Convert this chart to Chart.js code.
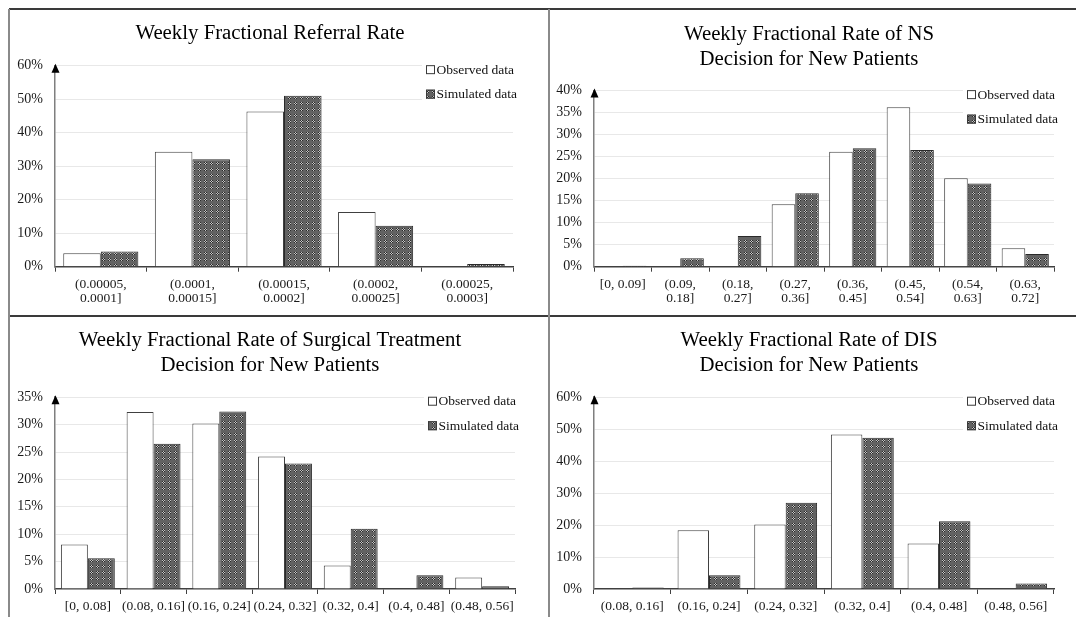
<!DOCTYPE html>
<html>
<head>
<meta charset="utf-8">
<script src="https://cdn.jsdelivr.net/npm/chart.js@4.4.0/dist/chart.umd.min.js"></script>
<style>
  body { margin: 0; background: #fff; }
  #page { position: relative; width: 1076px; height: 617px; overflow: hidden; }
  canvas { position: absolute; }
  .rule { position: absolute; }
</style>
</head>
<body>
<div id="page">
  <div class="rule" style="left:9px;top:8px;width:1067px;height:2px;background:#3a3a3a"></div>
  <div class="rule" style="left:9px;top:315px;width:1067px;height:2px;background:#3a3a3a"></div>
  <div class="rule" style="left:8px;top:9px;width:2px;height:608px;background:#8a8a8a"></div>
  <div class="rule" style="left:548px;top:9px;width:2px;height:608px;background:#8a8a8a"></div>
  <canvas id="c1" width="537" height="304" style="left:11px;top:11px"></canvas>
  <canvas id="c2" width="525" height="304" style="left:551px;top:11px"></canvas>
  <canvas id="c3" width="537" height="298" style="left:11px;top:318px"></canvas>
  <canvas id="c4" width="525" height="298" style="left:551px;top:318px"></canvas>
</div>
<script>
// values in percent
const referralLabels = [["(0.00005,", "0.0001]"], ["(0.0001,", "0.00015]"], ["(0.00015,", "0.0002]"], ["(0.0002,", "0.00025]"], ["(0.00025,", "0.0003]"]];
const referralObserved = [4, 34.3, 46.3, 16.3, 0];
const referralSimulated = [4.5, 32.1, 51, 12.2, 0.8];

const nsLabels = ["[0, 0.09]", ["(0.09,", "0.18]"], ["(0.18,", "0.27]"], ["(0.27,", "0.36]"], ["(0.36,", "0.45]"], ["(0.45,", "0.54]"], ["(0.54,", "0.63]"], ["(0.63,", "0.72]"]];
const nsObserved = [0, 0, 0, 14.2, 26.1, 36.2, 20.1, 4.2];
const nsSimulated = [0.2, 1.9, 7.0, 16.7, 26.9, 26.5, 18.9, 2.9];

const surgLabels = ["[0, 0.08]", "(0.08, 0.16]", "(0.16, 0.24]", "(0.24, 0.32]", "(0.32, 0.4]", "(0.4, 0.48]", "(0.48, 0.56]"];
const surgObserved = [8.1, 32.3, 30.2, 24.2, 4.3, 0, 2.1];
const surgSimulated = [5.6, 26.5, 32.4, 22.9, 11, 2.5, 0.5];

const disLabels = ["(0.08, 0.16]", "(0.16, 0.24]", "(0.24, 0.32]", "(0.32, 0.4]", "(0.4, 0.48]", "(0.48, 0.56]"];
const disObserved = [0, 18.4, 20.2, 48.3, 14.2, 0];
const disSimulated = [0.5, 4.3, 27, 47.3, 21.2, 1.7];

const SERIF = '"Liberation Serif", "Times New Roman", serif';

// hatched grey fill used by Excel for the simulated series
function makePattern() {
  const c = document.createElement("canvas");
  c.width = 6;
  c.height = 6;
  const g = c.getContext("2d");
  g.fillStyle = "#626262";
  g.fillRect(0, 0, 6, 6);
  for (let i = 0; i < 3; i++) {
    for (let j = 0; j < 3; j++) {
      g.fillStyle = (i + j) % 2 ? "#c4c4c4" : "#2a2a2a";
      g.fillRect(1 + i, 1 + j, 1, 1);
    }
  }
  return g.createPattern(c, "repeat");
}
const hatch = makePattern();

// y axis arrow + legend drawn inside the plot area
const decor = {
  id: "decor",
  afterLayout(chart, args, opts) {
    // Excel centres the title a bit left of the plot centre
    const t = chart.titleBlock;
    if (t && opts.titleX) {
      const w = t.right - t.left;
      t.left = opts.titleX - w / 2;
      t.right = opts.titleX + w / 2;
    }
  },
  afterDraw(chart) {
    const ctx = chart.ctx;
    const a = chart.chartArea;
    const ys = chart.scales.y;
    const ax = Math.round(ys.right) + 0.5;
    ctx.save();
    ctx.fillStyle = "#000";
    ctx.beginPath();
    ctx.moveTo(ax, a.top - 2);
    ctx.lineTo(ax - 4, a.top + 7);
    ctx.lineTo(ax + 4, a.top + 7);
    ctx.closePath();
    ctx.fill();

    const lx = a.right - 87;
    const ly1 = a.top + 4;
    const ly2 = a.top + 28.5;
    ctx.fillStyle = "#fff";
    ctx.fillRect(lx - 4, ly1 - 8, chart.width - lx + 4, ly2 - ly1 + 16);
    ctx.font = "13.5px " + SERIF;
    ctx.textBaseline = "middle";
    chart.data.datasets.forEach((ds, i) => {
      const yy = i ? ly2 : ly1;
      ctx.fillStyle = ds.backgroundColor;
      ctx.fillRect(lx, yy - 4.5, 9, 9);
      ctx.strokeStyle = "#3a3a3a";
      ctx.lineWidth = 1;
      ctx.strokeRect(lx + 0.5, yy - 4, 8, 8);
      ctx.fillStyle = "#111";
      ctx.fillText(ds.label, lx + 10.5, yy + 0.5);
    });
    ctx.restore();
  },
};

function makeChart(id, o) {
  const ctx = document.getElementById(id).getContext("2d");
  return new Chart(ctx, {
    type: "bar",
    data: {
      labels: o.labels,
      datasets: [
        {
          label: "Observed data",
          data: o.observed,
          backgroundColor: "#ffffff",
          borderColor: "#404040",
          borderWidth: 1,
          borderSkipped: "bottom",
        },
        {
          label: "Simulated data",
          data: o.simulated,
          backgroundColor: hatch,
          borderColor: "#2a2a2a",
          borderWidth: 1,
          borderSkipped: "bottom",
        },
      ],
    },
    options: {
      responsive: false,
      animation: false,
      devicePixelRatio: 1,
      categoryPercentage: 0.82,
      barPercentage: 1.0,
      layout: {
        padding: { left: 0, right: o.padR, top: 0, bottom: 0 },
      },
      scales: {
        x: {
          grid: {
            display: true,
            drawOnChartArea: false,
            drawTicks: true,
            tickLength: 5,
            color: "#404040",
          },
          border: { display: true, color: "#404040", width: 1.5 },
          ticks: {
            autoSkip: false,
            maxRotation: 0,
            minRotation: 0,
            padding: 5,
            color: "#1a1a1a",
            font: { family: SERIF, size: 13.5, lineHeight: 1.08 },
          },
          afterFit(scale) {
            scale.height = o.xHeight;
          },
        },
        y: {
          min: 0,
          max: o.max,
          grid: {
            drawTicks: false,
            color: (c) => (c.tick && c.tick.value === 0 ? "rgba(0,0,0,0)" : "#e8e8e8"),
            lineWidth: 1,
          },
          border: { display: true, color: "#7f7f7f", width: 1.5 },
          ticks: {
            stepSize: o.step,
            padding: 12,
            color: "#1a1a1a",
            font: { family: SERIF, size: 14 },
            callback: (v) => v + "%",
          },
          afterFit(scale) {
            scale.width = o.yWidth;
          },
        },
      },
      plugins: {
        legend: { display: false },
        tooltip: { enabled: false },
        decor: { titleX: o.titleX },
        title: {
          display: true,
          text: o.title,
          color: "#000",
          font: { family: SERIF, size: 20.8, weight: "normal", lineHeight: 1.2 },
          padding: { top: o.titleTop, bottom: o.titleBottom },
        },
      },
    },
    plugins: [decor],
  });
}

window.onload = () => {
  makeChart("c1", {
    title: "Weekly Fractional Referral Rate",
    labels: referralLabels,
    observed: referralObserved,
    simulated: referralSimulated,
    max: 60,
    step: 10,
    padR: 35,
    yWidth: 44,
    xHeight: 48.3,
    titleX: 259,
    titleTop: 10.5,
    titleBottom: 19.2,
  });
  makeChart("c2", {
    title: ["Weekly Fractional Rate of NS", "Decision for New Patients"],
    labels: nsLabels,
    observed: nsObserved,
    simulated: nsSimulated,
    max: 40,
    step: 5,
    padR: 22,
    yWidth: 43,
    xHeight: 48.3,
    titleX: 258,
    titleTop: 11.5,
    titleBottom: 18.2,
  });
  makeChart("c3", {
    title: ["Weekly Fractional Rate of Surgical Treatment", "Decision for New Patients"],
    labels: surgLabels,
    observed: surgObserved,
    simulated: surgSimulated,
    max: 35,
    step: 5,
    padR: 33,
    yWidth: 44,
    xHeight: 27,
    titleX: 259,
    titleTop: 10.5,
    titleBottom: 18.8,
  });
  makeChart("c4", {
    title: ["Weekly Fractional Rate of DIS", "Decision for New Patients"],
    labels: disLabels,
    observed: disObserved,
    simulated: disSimulated,
    max: 60,
    step: 10,
    padR: 22,
    yWidth: 43,
    xHeight: 27,
    titleX: 258,
    titleTop: 10.5,
    titleBottom: 18.8,
  });
};
</script>
</body>
</html>
